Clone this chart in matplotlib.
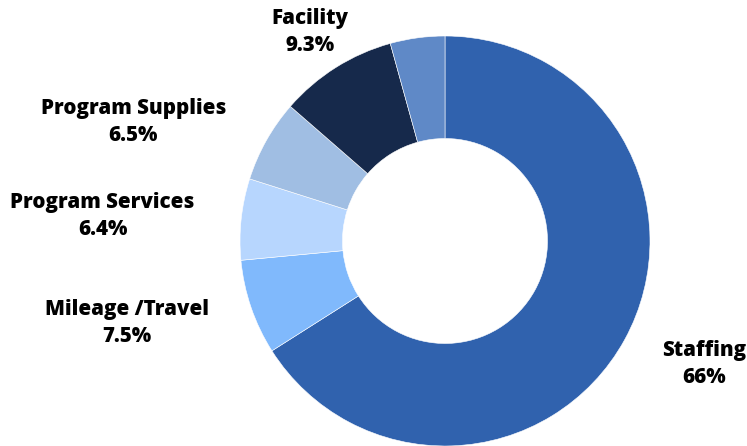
import matplotlib.pyplot as plt

# budget share by category, clockwise from 12 o'clock
categories = ['Staffing', 'Mileage /Travel', 'Program Services', 'Program Supplies', 'Facility', '']
shares = [66, 7.5, 6.4, 6.5, 9.3, 4.3]
colors = ['#3062ae', '#80b9fc', '#b7d6fe', '#a0bee3', '#16294b', '#5f89c7']

# label centres in pie units (radius = 1)
label_pos = [(1.265, -0.60), (-1.55, -0.40), (-1.67, 0.12), (-1.52, 0.58), (-0.66, 1.02), None]

plt.rcParams['font.family'] = ['Open Sans', 'DejaVu Sans']

fig = plt.figure(figsize=(7.47, 4.46), dpi=100)
ax = fig.add_axes([0, 0, 1, 1])

wedges, _ = ax.pie(shares, colors=colors, startangle=90, counterclock=False,
                   radius=1, wedgeprops=dict(width=0.5, edgecolor='white', linewidth=0.4))

for name, v, pos in zip(categories, shares, label_pos):
    if pos is None:
        continue
    ax.text(pos[0], pos[1], f'{name}\n{v:g}%', ha='center', va='center',
            fontsize=14.8, fontweight=800, color='black', linespacing=1.38)

ax.set_xlim(-445 / 205, (747 - 445) / 205)
ax.set_ylim(-(446 - 241) / 205, 241 / 205)
ax.set_aspect('equal')
ax.axis('off')

fig.savefig('out.png', dpi=100)
